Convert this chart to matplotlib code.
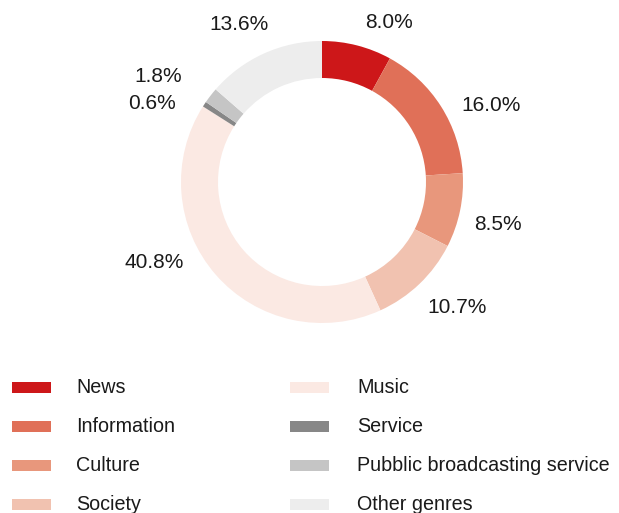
import matplotlib
matplotlib.use('Agg')
import matplotlib.pyplot as plt
from matplotlib.patches import Rectangle

# Genre shares (%)
genres = ['News', 'Information', 'Culture', 'Society',
          'Music', 'Service', 'Pubblic broadcasting service', 'Other genres']
shares = [8.0, 16.0, 8.5, 10.7, 40.8, 0.6, 1.8, 13.6]
colors = ['#cd1719', '#e07058', '#e8977c', '#f1c2b0',
          '#fbe9e3', '#878787', '#c5c5c5', '#ededed']

# label anchor points (x centre, baseline) in pixel space, top-left origin
label_pos = [(389, 28), (491, 111), (498, 230), (457, 313),
             (154, 268), (152, 109), (158, 82), (239, 30)]

W, H = 619, 513
plt.rcParams['font.family'] = ['Liberation Sans', 'DejaVu Sans']

fig = plt.figure(figsize=(W / 100, H / 100), dpi=100)
ax = fig.add_axes([0, 0, 1, 1])
ax.set_xlim(0, W)
ax.set_ylim(0, H)
ax.set_aspect('equal')
ax.axis('off')

# donut
ax.pie(shares, colors=colors, center=(322, H - 182), radius=141,
       startangle=90, counterclock=False,
       wedgeprops=dict(width=37, linewidth=0))
ax.set_xlim(0, W)
ax.set_ylim(0, H)

for val, (x, y) in zip(shares, label_pos):
    ax.text(x, H - y, f'{val:.1f}%', ha='center', va='baseline',
            fontsize=15, color='#1a1a1a')

# legend, two columns of four
for i, (name, col) in enumerate(zip(genres, colors)):
    c, r = divmod(i, 4)
    px = 12 if c == 0 else 290
    tx = 76 if c == 0 else 357
    ybot = 393 + r * 39
    ax.add_patch(Rectangle((px, H - ybot), 39, 11, facecolor=col,
                           edgecolor='none'))
    ax.text(tx, H - ybot, name, ha='left', va='baseline',
            fontsize=14.2, color='#1a1a1a')

fig.savefig('out.png', dpi=100)
